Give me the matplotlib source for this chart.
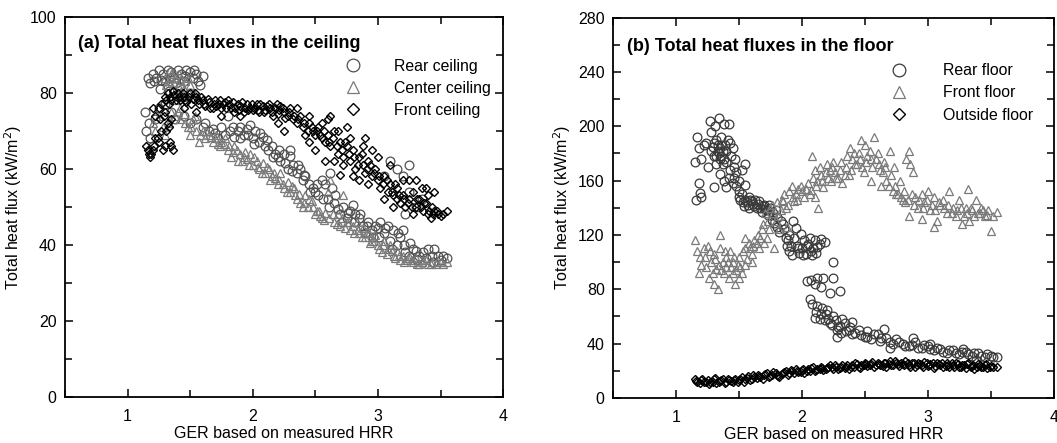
import matplotlib
matplotlib.use("Agg")
import matplotlib.pyplot as plt
from matplotlib.ticker import MultipleLocator

plt.rcParams["font.family"] = ["Liberation Sans", "DejaVu Sans"]

# ── (a) ceiling ───────────────────────────────────────────────────────────────
rear_ceil_x = [1.16, 1.18, 1.2, 1.23, 1.25, 1.28, 1.3, 1.32, 1.35, 1.37, 1.4, 1.43, 1.45, 1.47, 1.5,
               1.52, 1.55, 1.58, 1.26, 1.33, 1.42, 1.5,
               1.14, 1.15, 1.17, 1.18, 1.2, 1.22, 1.25, 1.3, 1.35, 1.38,
               1.45, 1.5, 1.55, 1.6, 1.65, 1.7, 1.75, 1.8, 1.82, 1.85, 1.88, 1.9, 1.93, 1.95, 1.98,
               2.0, 2.02, 2.05, 2.08, 2.1, 2.12, 2.15, 2.18, 2.2, 2.22, 2.25, 2.28, 2.3, 2.32, 2.35,
               2.38, 2.4, 2.42, 2.45, 2.48, 2.5, 2.52, 2.55, 2.58, 2.6, 2.62, 2.63, 2.65, 2.68, 2.7,
               2.72, 2.75, 2.78, 2.8, 2.82, 2.85, 2.88, 2.9, 2.92, 2.95, 2.98, 3.0, 3.02, 3.05, 3.08,
               3.1, 3.12, 3.15, 3.18, 3.2, 3.22, 3.25, 3.28, 3.3, 3.33, 3.36, 3.4, 3.43, 3.45, 3.48,
               3.5, 3.55,
               3.1, 3.15, 3.2, 3.25, 3.25, 3.3, 3.35, 3.22, 3.05, 2.3,
               1.21, 1.27, 1.34, 1.39, 1.46, 1.53, 1.56, 1.6,
               1.62, 1.68, 1.72, 1.78, 1.84, 1.9, 1.96, 2.01, 2.06, 2.11, 2.16, 2.21, 2.26, 2.31,
               2.36, 2.41, 2.46, 2.51, 2.56, 2.61, 2.66, 2.71, 2.76, 2.81, 2.86, 2.91, 2.96, 3.01,
               3.06, 3.11, 3.16, 3.21, 3.26, 3.31, 3.38, 3.44, 3.52]
rear_ceil_y = [84, 82.5, 85, 84, 86, 85, 83, 86, 85.5, 84, 86, 85, 83, 86, 85.5,
               84, 85, 82, 81, 80.5, 81.5, 80,
               75, 70, 72, 68, 66, 73, 76, 77, 75, 73,
               74, 72, 73, 71, 70, 69.5, 71, 74, 70, 68.5, 70, 71, 69, 70.5, 71.5,
               68, 70, 67, 68.5, 66, 65, 66, 64, 63, 62, 64, 60, 63.5, 61, 59,
               60, 57, 58, 56, 55, 54, 53, 57, 56, 52, 59, 55, 51, 49.5, 48,
               50, 47, 49, 50.5, 48, 47, 45, 43, 46, 44, 45, 44.5, 46, 43, 45,
               41, 44, 40, 42, 44, 38, 37, 39, 38.5, 37, 38, 39, 37, 39, 37,
               36, 36.5,
               62, 60, 58, 61, 54, 50, 52, 48, 58, 65,
               83, 83.5, 84, 82.5, 84.5, 86, 83, 84.5,
               72, 70.5, 68, 69, 71, 68, 69, 66.5, 69.5, 67.5, 63, 65, 61.5, 59.5,
               61, 58.5, 54, 56, 52, 50, 53, 46, 48.5, 46, 48, 45, 42, 42,
               44.5, 39, 43, 40, 40.5, 36, 36.5, 35.5, 37]

center_ceil_x = [1.3, 1.33, 1.35, 1.38, 1.4, 1.42, 1.45, 1.48, 1.5, 1.53, 1.36, 1.44,
                 1.2, 1.22, 1.25, 1.28, 1.3, 1.33, 1.35, 1.38,
                 1.4, 1.42, 1.45, 1.48, 1.5, 1.52, 1.55, 1.57, 1.6, 1.62, 1.65, 1.68, 1.7, 1.72,
                 1.75, 1.78, 1.8, 1.83, 1.85, 1.88, 1.9, 1.93, 1.95, 1.98, 2.0, 2.03, 2.05, 2.08,
                 2.1, 2.13, 2.15, 2.18, 2.2, 2.22, 2.25, 2.28, 2.3, 2.33, 2.35, 2.38, 2.4, 2.42,
                 2.45, 2.48, 2.5, 2.53, 2.55, 2.58, 2.6, 2.62, 2.65, 2.68, 2.7, 2.72, 2.75, 2.78,
                 2.8, 2.83, 2.85, 2.88, 2.9, 2.93, 2.95, 2.98, 3.0, 3.03, 3.05, 3.08, 3.1, 3.13,
                 3.15, 3.18, 3.2, 3.23, 3.25, 3.28, 3.3, 3.33, 3.36, 3.4, 3.43, 3.46, 3.5, 3.55,
                 1.31, 1.34, 1.37, 1.41, 1.43, 1.46, 1.49, 1.39, 1.42, 1.46, 1.51, 1.54, 1.58,
                 1.63, 1.67, 1.71, 1.74, 1.77, 1.81, 1.84, 1.87, 1.91, 1.94, 1.97, 2.01, 2.04,
                 2.07, 2.11, 2.14, 2.17, 2.21, 2.24, 2.27, 2.31, 2.34, 2.37, 2.41, 2.44, 2.47,
                 2.51, 2.54, 2.57, 2.61, 2.64, 2.67, 2.71, 2.74, 2.77, 2.81, 2.84, 2.87, 2.91,
                 2.94, 2.97, 3.01, 3.04, 3.07, 3.11, 3.14, 3.17, 3.21, 3.24, 3.27, 3.31, 3.35,
                 3.38, 3.42, 3.47, 3.52]
center_ceil_y = [84, 83, 85, 84, 82, 83.5, 81, 84, 82, 80, 81, 79,
                 72, 70, 74, 71, 69, 72, 75, 74,
                 75, 73, 74.5, 71, 69, 73, 70, 67, 70, 68, 69, 67, 68, 66.5,
                 67, 68, 65, 63, 66, 62, 64, 63, 62.5, 64, 61, 62, 60, 61.5,
                 59, 60, 58, 57.5, 56, 59, 55, 56.5, 54, 55, 52, 51, 50, 53,
                 52, 50, 48, 49, 47, 48.5, 54, 57, 46, 48, 45, 53, 46, 44,
                 45, 46, 43, 44.5, 42, 43, 41, 42.5, 40, 38, 41, 39, 40, 37,
                 38.5, 36, 37, 36, 37, 35.5, 36.5, 35, 36, 35, 35.5, 35, 35.5, 35.5,
                 82, 86, 82.5, 85, 80.5, 83, 80, 78, 76, 72, 71, 74, 69,
                 70, 68.5, 69, 66, 66.5, 66, 64.5, 65, 62, 64.5, 61, 63, 60.5,
                 59, 60.5, 57, 59, 57, 56, 54, 55.5, 53, 53.5, 51, 50, 51.5,
                 49, 47.5, 46.5, 47, 48, 45.5, 47, 44.5, 46, 43, 44, 42, 43.5,
                 40.5, 41, 39, 40, 37.5, 38.5, 36.5, 37, 35.5, 36.5, 36, 35, 35.5,
                 36, 35, 35.5, 35]

front_ceil_x = [1.15, 1.17, 1.18, 1.2, 1.22, 1.25, 1.27, 1.28, 1.3, 1.32, 1.33, 1.35, 1.3, 1.25,
                1.22, 1.35, 1.2,
                1.3, 1.32, 1.35, 1.37, 1.4, 1.42, 1.45, 1.47, 1.5, 1.52, 1.55, 1.57, 1.6, 1.62,
                1.65, 1.68, 1.7, 1.73, 1.75, 1.78, 1.8, 1.83, 1.85, 1.88, 1.9, 1.93, 1.95, 1.98,
                2.0, 2.03, 2.05, 2.08, 2.1, 2.13, 2.15, 2.18, 2.2, 2.22, 2.25, 2.28, 2.3, 1.45,
                1.55, 1.75, 1.9,
                2.32, 2.35, 2.38, 2.4, 2.42, 2.45, 2.48, 2.5, 2.52, 2.55, 2.58, 2.6, 2.62, 2.65,
                2.68, 2.7, 2.72, 2.75, 2.78, 2.8, 2.82, 2.85, 2.88, 2.9, 2.92, 2.95, 2.98, 3.0,
                3.02, 3.05, 3.08, 3.1, 3.12, 3.15, 3.18, 3.2, 3.22, 3.25, 3.28, 3.3, 3.33, 3.36,
                3.38, 3.4, 3.43, 3.45, 3.48, 3.52, 3.55,
                2.2, 2.25, 2.35, 2.45, 2.6, 2.65, 2.75, 2.9, 3.0, 2.85, 3.25, 3.35, 3.45,
                1.31, 1.34, 1.36, 1.39, 1.41, 1.44, 1.46, 1.49, 1.51, 1.54, 1.56, 1.59, 1.61,
                1.64, 1.66, 1.69, 1.71, 1.74, 1.76, 1.79, 1.81, 1.84, 1.86, 1.89, 1.91, 1.94,
                1.96, 1.99, 2.01, 2.04, 2.06, 2.09, 2.11, 2.14, 2.16, 2.19, 2.21, 2.24, 2.26,
                2.29, 2.33, 2.36, 2.41, 2.44, 2.47, 2.51, 2.54, 2.57, 2.61, 2.64, 2.67, 2.71,
                2.74, 2.77, 2.81, 2.84, 2.87, 2.91, 2.94, 2.97, 3.01, 3.04, 3.07, 3.11, 3.14,
                3.17, 3.21, 3.24, 3.27, 3.31, 3.34, 3.37, 3.41, 3.44, 3.47, 3.5,
                1.16, 1.19, 1.21, 1.24, 1.26, 1.29, 1.31, 1.34, 1.36, 1.27, 1.33,
                2.45, 2.55, 2.62, 2.68, 2.72, 2.78, 2.8, 2.88, 2.92, 2.95, 3.05, 3.1, 3.12,
                3.2, 3.28, 3.3, 3.4, 3.42, 2.5, 2.58, 2.7, 3.15, 3.38]
front_ceil_y = [66, 64, 63, 65, 68, 67, 70, 65, 66, 72, 71, 66, 75, 76,
                74, 73, 76,
                79, 80, 78, 79.5, 80, 78, 79, 77.5, 80, 78.5, 79, 77, 78, 76.5,
                77.5, 76, 78, 77, 76, 77.5, 78, 76, 75, 77, 76.5, 75, 77, 76,
                75.5, 77, 75, 76.5, 75.5, 77, 75, 76, 74.5, 76.5, 75, 74, 76, 76,
                75, 74, 74,
                73, 72, 74, 71, 69, 72, 70, 69, 71, 68, 67, 69, 66, 70,
                64, 67, 63, 66, 62, 65, 60, 63, 61, 59, 62, 58, 60, 57,
                55, 58, 54, 56, 53, 55, 51, 53, 50, 52, 54, 50, 52, 49,
                51, 48, 50, 49, 48, 48, 49,
                72, 70, 76, 74, 73, 62, 71, 68, 63, 57, 57, 55, 54,
                78, 79, 80.5, 78, 79, 80, 78, 79, 77, 80, 78, 79, 77,
                78.5, 76, 77, 76.5, 78, 77, 76, 77, 77.5, 76, 75.5, 77.5, 76,
                75.5, 77, 76, 75.5, 77, 75, 76.5, 76, 74, 77, 75.5, 76, 73.5,
                75, 74, 73, 72, 70, 71, 70, 69, 70, 67, 68, 66, 65,
                67, 64, 63, 61, 64, 60, 61, 59, 58, 56, 57, 54, 56,
                53, 52, 51, 50, 52, 50, 51, 49, 48, 49, 47.5,
                65, 64, 66, 68, 73, 74, 70, 67, 65, 77, 77,
                67, 72, 74, 70, 61, 68, 58, 66, 56, 65, 52, 61, 50,
                57, 48, 57, 53, 47, 65, 62, 58.5, 52, 55]

# ── (b) floor ─────────────────────────────────────────────────────────────────
rear_floor_x = [1.15, 1.16, 1.18, 1.19, 1.2, 1.17, 1.18, 1.2, 1.22, 1.24, 1.25, 1.27, 1.28, 1.29,
                1.3, 1.31, 1.32, 1.33, 1.34, 1.35, 1.36, 1.37, 1.38, 1.4, 1.42, 1.41, 1.43, 1.44,
                1.45, 1.46, 1.47, 1.3, 1.35, 1.38, 1.4, 1.42, 1.45, 1.48, 1.5, 1.52, 1.52, 1.55,
                1.55, 1.5, 1.53, 1.55, 1.57, 1.6, 1.62, 1.65, 1.67, 1.7, 1.72, 1.75, 1.58, 1.63,
                1.68, 1.73, 1.76, 1.78, 1.8, 1.8, 1.82, 1.85, 1.87, 1.88, 1.9, 1.9, 1.92, 1.93,
                1.95, 1.96, 1.98, 2.0, 2.02, 2.03, 2.05, 2.07, 2.1, 2.12, 2.15, 2.18, 2.08, 2.04,
                2.07, 2.1, 2.12, 2.15, 2.17, 2.25, 2.25, 2.22, 2.3, 2.06, 2.08, 2.1, 2.12, 2.15,
                2.18, 2.2, 2.22, 2.25, 2.28, 2.3, 2.32, 2.35, 2.38, 2.4, 2.45, 2.5, 2.55, 2.6,
                2.65, 2.63, 2.7, 2.75, 2.8, 2.85, 2.9, 2.95, 3.0, 3.05, 3.1, 3.15, 3.2, 3.25,
                3.3, 3.35, 3.4, 3.45, 3.5, 3.55, 2.28, 2.4, 2.52, 2.7, 2.88, 3.02, 3.28, 3.38,
                1.28, 1.3, 1.32, 1.33, 1.34, 1.35, 1.36, 1.37, 1.38, 1.39, 1.4, 1.32, 1.36, 1.43,
                1.46, 1.48, 1.5, 1.51, 1.54, 1.56, 1.58, 1.59, 1.61, 1.64, 1.66, 1.69, 1.71, 1.74,
                1.77, 1.79, 1.83, 1.86, 1.89, 1.91, 1.94, 1.97, 1.99, 2.01, 2.04, 2.06, 2.09, 2.11,
                2.14, 2.11, 2.14, 2.16, 2.19, 2.21, 2.24, 2.27, 2.29, 2.31, 2.34, 2.37, 2.42, 2.47,
                2.52, 2.57, 2.62, 2.67, 2.72, 2.77, 2.82, 2.87, 2.92, 2.97, 3.02, 3.07, 3.12, 3.17,
                3.22, 3.27, 3.32, 3.37, 3.42, 3.47, 3.52]
rear_floor_y = [174, 146, 158, 151, 148, 192, 184, 176, 186, 188, 170, 204, 196, 185,
                178, 200, 190, 182, 206, 176, 186, 172, 202, 182, 202, 190, 188, 178,
                184, 170, 176, 155, 165, 160, 155, 162, 158, 166, 160, 168, 150, 172,
                157, 148, 144, 146, 142, 145, 141, 143, 140, 142, 138, 140, 148, 146,
                137, 135, 131, 129, 133, 126, 122, 128, 118, 112, 108, 120, 105, 130,
                125, 112, 107, 110, 116, 106, 113, 108, 116, 111, 117, 115, 105, 86,
                87, 84, 88, 82, 88, 100, 88, 77, 79, 73, 69, 59, 68, 62,
                57, 65, 55, 60, 50, 53, 58, 49, 52, 47, 50, 45, 43, 47,
                51, 44, 41, 43, 40, 38, 41, 37, 38, 35, 36, 33, 35, 32,
                34, 31, 33, 30, 31, 30, 45, 56, 49, 37, 44, 40, 36, 28,
                182, 188, 178, 186, 180, 184, 178, 182, 176, 186, 174, 172, 192, 168,
                162, 156, 152, 146, 141, 144, 140, 146, 143, 140, 145, 141, 139, 142,
                136, 138, 130, 124, 116, 112, 118, 110, 121, 105, 112, 118, 110, 107,
                113, 63, 58, 66, 62, 58, 54, 57, 52, 48, 55, 50, 48, 46,
                45, 47, 42, 44, 40, 41, 38, 39, 37, 39, 36, 37, 34, 35,
                33, 34, 32, 33, 31, 32, 30]

front_floor_x = [1.15, 1.17, 1.18, 1.2, 1.22, 1.23, 1.25, 1.26, 1.28, 1.3, 1.3, 1.32, 1.33, 1.35,
                 1.35, 1.37, 1.38, 1.4, 1.4, 1.42, 1.43, 1.45, 1.47, 1.48, 1.5, 1.5, 1.52, 1.55,
                 1.55, 1.58, 1.6, 1.62, 1.65, 1.66, 1.68, 1.7, 1.72, 1.73, 1.75, 1.77, 1.78, 1.8,
                 1.82, 1.83, 1.85, 1.87, 1.88, 1.9, 1.92, 1.94, 1.95, 1.97, 2.0, 2.02, 2.05, 2.07,
                 2.08, 2.1, 2.1, 2.12, 2.13, 2.15, 2.17, 2.2, 2.22, 2.23, 2.25, 2.27, 2.3, 2.32,
                 2.35, 2.37, 2.38, 2.4, 2.42, 2.45, 2.47, 2.48, 2.5, 2.52, 2.55, 2.55, 2.57, 2.6,
                 2.62, 2.63, 2.65, 2.67, 2.7, 2.72, 2.73, 2.75, 2.78, 2.8, 2.82, 2.83, 2.85, 2.86,
                 2.88, 2.9, 2.92, 2.95, 2.97, 3.0, 3.02, 3.05, 3.07, 3.1, 3.12, 3.15, 3.17, 3.2,
                 3.22, 3.25, 3.27, 3.3, 3.32, 3.33, 3.35, 3.38, 3.4, 3.42, 3.45, 3.48, 3.5, 3.55,
                 2.85, 2.95, 3.05, 1.55, 1.6, 1.45,
                 1.19, 1.24, 1.27, 1.29, 1.31, 1.34, 1.36, 1.39, 1.41, 1.44, 1.46, 1.49, 1.51,
                 1.53, 1.56, 1.59, 1.61, 1.64, 1.67, 1.69, 1.71, 1.74, 1.76, 1.79, 1.81, 1.84,
                 1.86, 1.89, 1.93, 1.96, 1.99, 2.03, 2.06, 2.09, 2.11, 2.14, 2.16, 2.19, 2.21,
                 2.24, 2.26, 2.29, 2.31, 2.34, 2.36, 2.39, 2.41, 2.44, 2.46, 2.49, 2.51, 2.54,
                 2.56, 2.59, 2.61, 2.64, 2.66, 2.69, 2.71, 2.74, 2.76, 2.79, 2.81, 2.84, 2.87,
                 2.89, 2.93, 2.96, 2.99, 3.03, 3.06, 3.09, 3.13, 3.16, 3.19, 3.23, 3.26, 3.29,
                 3.31, 3.34, 3.37, 3.41, 3.44, 3.47, 3.52]
front_floor_y = [116, 108, 92, 98, 110, 104, 112, 88, 100, 84, 106, 95, 80, 110,
                 120, 100, 92, 104, 96, 88, 108, 100, 84, 94, 88, 104, 92, 110,
                 98, 114, 106, 116, 120, 110, 124, 114, 118, 130, 140, 136, 110, 144,
                 124, 138, 145, 140, 126, 152, 156, 145, 150, 154, 152, 148, 158, 153,
                 178, 168, 148, 160, 140, 164, 155, 172, 168, 160, 174, 162, 168, 158,
                 170, 164, 184, 176, 172, 180, 190, 170, 186, 178, 176, 160, 192, 180,
                 168, 156, 174, 160, 182, 152, 170, 150, 160, 146, 144, 176, 182, 172,
                 166, 148, 140, 150, 144, 152, 138, 148, 130, 142, 146, 136, 152, 140,
                 134, 146, 128, 140, 154, 130, 138, 146, 136, 140, 134, 138, 123, 137,
                 134, 132, 126, 118, 100, 92,
                 104, 96, 108, 92, 102, 98, 94, 108, 100, 96, 104, 98, 96,
                 108, 102, 110, 112, 114, 118, 128, 136, 124, 142, 130, 134, 146,
                 150, 142, 148, 146, 156, 154, 150, 162, 156, 170, 160, 166, 162,
                 170, 166, 162, 174, 164, 178, 168, 180, 172, 176, 166, 174, 182,
                 170, 176, 172, 166, 170, 156, 164, 156, 150, 148, 152, 146, 150,
                 142, 146, 140, 146, 142, 138, 144, 140, 142, 136, 138, 140, 134,
                 136, 140, 134, 136, 138, 135, 134]

outside_floor_x = [1.15, 1.17, 1.2, 1.22, 1.25, 1.27, 1.3, 1.32, 1.35, 1.37, 1.4, 1.42, 1.45,
                   1.47, 1.5, 1.52, 1.55, 1.57, 1.6, 1.62, 1.65, 1.67, 1.7, 1.72, 1.75, 1.77,
                   1.8, 1.82, 1.85, 1.87, 1.9, 1.92, 1.95, 1.97, 2.0, 2.02, 2.05, 2.07, 2.1,
                   2.12, 2.15, 2.17, 2.2, 2.22, 2.25, 2.27, 2.3, 2.32, 2.35, 2.37, 2.4, 2.42,
                   2.45, 2.47, 2.5, 2.52, 2.55, 2.57, 2.6, 2.62, 2.65, 2.67, 2.7, 2.72, 2.75,
                   2.77, 2.8, 2.82, 2.85, 2.87, 2.9, 2.92, 2.95, 2.97, 3.0, 3.02, 3.05, 3.07,
                   3.1, 3.12, 3.15, 3.17, 3.2, 3.22, 3.25, 3.27, 3.3, 3.32, 3.35, 3.37, 3.4,
                   3.42, 3.45, 3.47, 3.5, 3.55,
                   1.16, 1.19, 1.21, 1.24, 1.26, 1.29, 1.31, 1.34, 1.36, 1.39, 1.41, 1.44, 1.46,
                   1.49, 1.51, 1.54, 1.56, 1.59, 1.61, 1.64, 1.66, 1.69, 1.71, 1.74, 1.76, 1.79,
                   1.81, 1.84, 1.86, 1.89, 1.91, 1.94, 1.96, 1.99, 2.01, 2.04, 2.06, 2.09, 2.11,
                   2.14, 2.16, 2.19, 2.21, 2.24, 2.26, 2.29, 2.31, 2.34, 2.36, 2.39, 2.41, 2.44,
                   2.46, 2.49, 2.51, 2.54, 2.56, 2.59, 2.61, 2.64, 2.66, 2.69, 2.71, 2.74, 2.76,
                   2.79, 2.81, 2.84, 2.86, 2.89, 2.91, 2.94, 2.96, 2.99, 3.01, 3.04, 3.06, 3.09,
                   3.11, 3.14, 3.16, 3.19, 3.21, 3.24, 3.26, 3.29, 3.31, 3.34, 3.36, 3.39, 3.41,
                   3.44, 3.46, 3.49, 3.52]
outside_floor_y = [14, 12, 13, 11.5, 13, 12, 13.5, 11, 12.5, 14, 12, 13, 11.5,
                   14, 13, 15, 13.5, 16, 14, 15.5, 17, 15, 16.5, 18, 16, 19,
                   17, 15, 18.5, 20, 18, 19.5, 21, 19, 20.5, 18.5, 21, 22, 20,
                   21.5, 23, 20.5, 22, 24, 21.5, 23, 22, 24.5, 23, 21, 24, 25.5,
                   23, 24.5, 26, 23.5, 25, 22.5, 26, 24, 25.5, 23, 27, 24.5, 26,
                   23.5, 25, 27, 24, 26, 23, 25.5, 24, 26.5, 23.5, 25, 22, 26,
                   24.5, 23, 25.5, 22.5, 24, 26, 23, 24.5, 22, 25.5, 23.5, 21.5, 25,
                   23, 24, 22, 23.5, 23,
                   12.5, 11, 14, 12, 10.5, 12, 14.5, 11.5, 13, 11, 14, 12.5, 13,
                   11.5, 14, 12, 14.5, 13, 16.5, 14.5, 16, 14, 17.5, 15, 17, 18.5,
                   16, 17.5, 19, 17, 20.5, 18.5, 20, 19, 21.5, 19.5, 20, 22.5, 20.5,
                   21, 22, 21, 23, 22.5, 24, 21.5, 23, 22, 24.5, 22.5, 23, 25,
                   22, 24.5, 25, 24, 26.5, 24, 25, 23.5, 26, 25, 24, 27, 25,
                   26, 24, 25.5, 23, 26, 24.5, 25, 23, 25.5, 24.5, 26, 23.5, 25,
                   26, 23.5, 24.5, 25.5, 23, 25, 22.5, 24, 25, 23, 24.5, 22.5, 24,
                   23, 25, 23, 22.5]

GREY_DARK = "#3a3a3a"
GREY_MID = "#7a7a7a"

fig = plt.figure(figsize=(10.57, 4.43), dpi=100)
ax1 = fig.add_axes([0.0615, 0.104, 0.4145, 0.858])
ax2 = fig.add_axes([0.580, 0.102, 0.417, 0.858])


def style(ax, ymax, ymaj, ymin):
    ax.set_xlim(0.5, 4)
    ax.set_ylim(0, ymax)
    ax.xaxis.set_major_locator(MultipleLocator(1))
    ax.xaxis.set_minor_locator(MultipleLocator(0.5))
    ax.yaxis.set_major_locator(MultipleLocator(ymaj))
    ax.yaxis.set_minor_locator(MultipleLocator(ymin))
    ax.tick_params(which="both", direction="in", top=True, right=True,
                   labelsize=11.5, width=1.1)
    ax.tick_params(which="major", length=6, pad=6)
    ax.tick_params(which="minor", length=5)
    ax.tick_params(axis="x", which="major", pad=9)
    ax.set_xticks([1, 2, 3, 4])
    for s in ax.spines.values():
        s.set_linewidth(1.3)
    ax.set_xlabel("GER based on measured HRR", fontsize=11.5, labelpad=1)
    ax.set_ylabel("Total heat flux (kW/m$^2$)", fontsize=11.5, labelpad=4)


circ = dict(marker="o", ms=6.3, mfc="none", mew=0.9, ls="none")
tri = dict(marker="^", ms=6.3, mfc="none", mew=0.9, ls="none")
dia = dict(marker="D", ms=4.1, mfc="none", mew=1.0, ls="none")

ax1.plot(rear_ceil_x, rear_ceil_y, color="#505050", label="Rear ceiling", **circ)
ax1.plot(center_ceil_x, center_ceil_y, color=GREY_MID, label="Center ceiling", **tri)
ax1.plot(front_ceil_x, front_ceil_y, color="black", label="Front ceiling", **dia)
style(ax1, 100, 20, 10)
ax1.text(0.03, 0.929, "(a) Total heat fluxes in the ceiling", transform=ax1.transAxes,
         fontsize=13, fontweight="bold", va="center", ha="left")
ax1.legend(loc="upper left", bbox_to_anchor=(0.64, 0.89), frameon=False,
           fontsize=11.4, handlelength=1.0, handletextpad=2.1, borderpad=0,
           borderaxespad=0, labelspacing=0.45, markerscale=1.45)

ax2.plot(rear_floor_x, rear_floor_y, color=GREY_DARK, label="Rear floor", **circ)
ax2.plot(front_floor_x, front_floor_y, color=GREY_MID, label="Front floor", **tri)
ax2.plot(outside_floor_x, outside_floor_y, color="black", label="Outside floor", **dia)
style(ax2, 280, 40, 20)
ax2.text(0.032, 0.924, "(b) Total heat fluxes in the floor", transform=ax2.transAxes,
         fontsize=13, fontweight="bold", va="center", ha="left")
ax2.legend(loc="upper left", bbox_to_anchor=(0.63, 0.88), frameon=False,
           fontsize=11.4, handlelength=1.0, handletextpad=2.3, borderpad=0,
           borderaxespad=0, labelspacing=0.45, markerscale=1.45)

fig.savefig("out.png", dpi=100)
